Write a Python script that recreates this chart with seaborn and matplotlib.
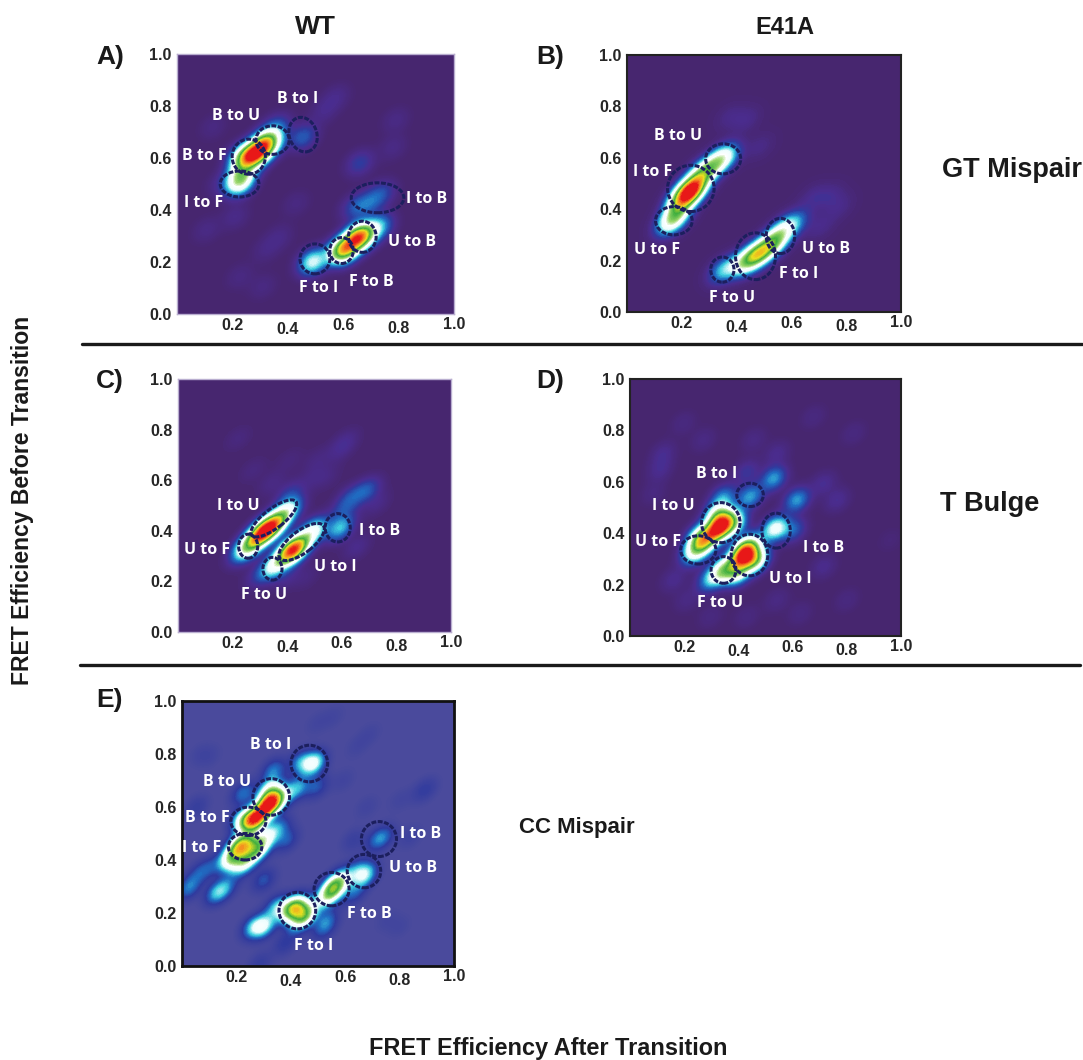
import numpy as np
import matplotlib
matplotlib.use('Agg')
import matplotlib.pyplot as plt
from matplotlib.colors import LinearSegmentedColormap
from matplotlib.lines import Line2D
from matplotlib.patches import Ellipse
import seaborn as sns

W, H = 1083, 1060

# transition peaks: after, before, relative height
a_x = [0.323, 0.281, 0.24, 0.23, 0.226, 0.455, 0.36, 0.66, 0.60, 0.49, 0.66, 0.74, 0.69, 0.73, 0.64,
       0.53, 0.576, 0.79, 0.78, 0.154, 0.21, 0.106, 0.226, 0.31, 0.37, 0.32, 0.13, 0.43]
a_y = [0.656, 0.612, 0.60, 0.53, 0.50, 0.68, 0.72, 0.297, 0.246, 0.20, 0.58, 0.464, 0.425, 0.336, 0.41,
       0.78, 0.836, 0.746, 0.64, 0.50, 0.374, 0.323, 0.144, 0.105, 0.297, 0.246, 0.72, 0.425]
a_w = [13, 13, 8, 6, 5, 2.8, 2.5, 16, 14, 6, 2, 2.2, 2.2, 4, 2,
       0.9, 0.9, 0.8, 0.8, 0.8, 0.9, 0.8, 0.7, 0.7, 0.8, 0.7, 0.7, 0.7]

b_x = [0.235, 0.278, 0.199, 0.333, 0.363, 0.18, 0.156, 0.473, 0.424, 0.52, 0.546, 0.582, 0.619, 0.351,
       0.436, 0.375, 0.485, 0.74, 0.68, 0.777, 0.704]
b_y = [0.475, 0.54, 0.436, 0.585, 0.611, 0.377, 0.345, 0.221, 0.189, 0.254, 0.286, 0.332, 0.351, 0.163,
       0.748, 0.76, 0.644, 0.449, 0.449, 0.41, 0.332]
b_w = [11, 6, 6, 4, 2.5, 4, 3.5, 7, 4, 4, 4, 2.5, 1.5, 3,
       0.7, 0.6, 0.6, 0.7, 0.7, 0.6, 0.7]

c_x = [0.33, 0.30, 0.361, 0.404, 0.257, 0.346, 0.435, 0.404, 0.496, 0.594, 0.692, 0.63, 0.606, 0.41, 0.226,
       0.288, 0.398, 0.655, 0.728, 0.22, 0.275, 0.343, 0.496, 0.508, 0.594, 0.618, 0.41, 0.545, 0.471]
c_y = [0.409, 0.383, 0.435, 0.482, 0.336, 0.255, 0.336, 0.31, 0.402, 0.409, 0.561, 0.534, 0.482, 0.547, 0.303,
       0.218, 0.218, 0.336, 0.508, 0.765, 0.64, 0.587, 0.613, 0.68, 0.719, 0.759, 0.68, 0.613, 0.218]
c_w = [12, 11, 8, 6, 9, 6, 13, 11, 7, 5, 3, 2, 2, 2, 1.2,
       1.2, 1.2, 1.2, 1, 0.7, 0.7, 0.9, 0.7, 0.7, 0.9, 0.9, 0.6, 0.7, 0.7]

d_x = [0.323, 0.345, 0.32, 0.382, 0.271, 0.234, 0.259, 0.443, 0.345, 0.53, 0.616, 0.536, 0.413, 0.437, 0.462,
       0.345, 0.296, 0.394, 0.603, 0.431, 0.123, 0.197, 0.271, 0.456, 0.542, 0.677, 0.714, 0.764, 0.825, 0.16,
       0.209, 0.296, 0.431, 0.542, 0.628, 0.80, 0.714, 0.086, 0.96, 0.11]
d_y = [0.412, 0.451, 0.477, 0.438, 0.36, 0.322, 0.386, 0.542, 0.542, 0.613, 0.529, 0.419, 0.309, 0.348, 0.296,
       0.257, 0.218, 0.244, 0.412, 0.639, 0.711, 0.828, 0.763, 0.763, 0.711, 0.853, 0.594, 0.529, 0.789, 0.218,
       0.14, 0.075, 0.075, 0.14, 0.088, 0.14, 0.27, 0.555, 0.374, 0.646]
d_w = [10, 6, 4, 5, 6, 4, 5, 3, 2.5, 3, 3, 5, 10, 7, 7,
       6, 3, 5, 2, 1.2, 0.8, 0.5, 0.6, 0.6, 0.8, 0.5, 0.9, 0.9, 0.5, 0.8,
       0.6, 0.5, 0.5, 0.6, 0.5, 0.5, 0.8, 0.5, 0.3, 0.8]

e_x = [0.317, 0.268, 0.324, 0.354, 0.225, 0.207, 0.275, 0.238, 0.176, 0.225, 0.311, 0.483, 0.434, 0.422, 0.495,
       0.336, 0.225, 0.023, 0.127, 0.06, 0.054, 0.164, 0.36, 0.385, 0.30, 0.103,
       0.422, 0.397, 0.458, 0.434, 0.30, 0.262, 0.348, 0.556, 0.532, 0.581, 0.673, 0.642, 0.63, 0.532, 0.52,
       0.379, 0.287, 0.74, 0.716, 0.838, 0.63, 0.90, 0.495, 0.556, 0.642, 0.066, 0.103, 0.691, 0.80, 0.875,
       0.679, 0.752, 0.80, 0.593]
e_y = [0.607, 0.553, 0.663, 0.632, 0.55, 0.45, 0.437, 0.462, 0.40, 0.387, 0.487, 0.764, 0.77, 0.67, 0.676,
       0.739, 0.651, 0.293, 0.274, 0.349, 0.60, 0.30, 0.525, 0.475, 0.324, 0.374,
       0.224, 0.211, 0.198, 0.173, 0.148, 0.148, 0.224, 0.293, 0.261, 0.324, 0.343, 0.362, 0.274, 0.173, 0.136,
       0.085, 0.01, 0.487, 0.475, 0.487, 0.475, 0.67, 0.915, 0.94, 0.827, 0.80, 0.789, 0.877, 0.626, 0.651,
       0.60, 0.173, 0.148, 0.70]
e_w = [12, 12, 5, 5, 5, 7, 6, 5, 5, 5, 4, 5, 2.5, 3, 2,
       2.5, 2.5, 2.5, 3, 1.5, 1.2, 2, 2, 2, 2, 1.5,
       6, 5, 5, 4, 4, 3, 3, 6, 4, 4, 4, 2, 2, 2, 1.5,
       1.5, 1.2, 1.8, 1.5, 0.8, 1, 1, 0.5, 0.5, 0.5, 0.5, 0.5, 0.5, 0.5, 0.5,
       0.6, 0.5, 0.5, 0.6]

# far off-plot points, they only set the kernel shape so it tilts like the ridges
tilt_x = [-0.6, 1.6, -0.6, 1.6]
tilt_y = [-0.6, 1.6, 1.6, -0.6]
a_tilt = [0.030, 0.030, 0.008, 0.008]
b_tilt = [0.032, 0.032, 0.008, 0.008]
c_tilt = [0.030, 0.030, 0.011, 0.011]
d_tilt = [0.026, 0.026, 0.014, 0.014]
e_tilt = [0.030, 0.030, 0.010, 0.010]

tick_labels = ['0.2', '0.4', '0.6', '0.8', '1.0']
y_tick_labels = ['0.0', '0.2', '0.4', '0.6', '0.8', '1.0']
x_tick_pads = [3, 6, 3, 5, 2]

# rings: x, y, width, height, angle
a_rings = [(.455, .69, .10, .135, 15), (.345, .669, .12, .11, 0), (.259, .605, .12, .135, 0), (.226, .50, .14, .10, 0),
           (.724, .447, .19, .115, 0), (.669, .297, .10, .12, 0), (.594, .244, .085, .10, 0), (.498, .212, .108, .115, 0)]
b_rings = [(.351, .596, .128, .117, 0), (.233, .481, .17, .18, 0), (.171, .355, .134, .11, 0),
           (.56, .296, .104, .137, 0), (.469, .217, .146, .182, 0), (.348, .165, .085, .098, 0)]
c_rings = [(.351, .449, .21, .075, 40), (.453, .356, .205, .085, 40), (.257, .339, .07, .095, 0),
           (.346, .25, .07, .09, 0), (.585, .412, .092, .112, 0)]
d_rings = [(.443, .549, .098, .091, 0), (.335, .441, .142, .156, 0), (.252, .335, .13, .11, 0),
           (.441, .315, .135, .162, 0), (.345, .257, .092, .104, 0), (.539, .41, .105, .136, 0)]
e_rings = [(.468, .764, .135, .138, 0), (.328, .638, .135, .138, 0), (.244, .546, .129, .107, 0), (.232, .45, .123, .10, 0),
           (.724, .479, .129, .132, 0), (.669, .358, .123, .126, 0), (.55, .29, .129, .126, 0), (.424, .209, .135, .138, 0)]

a_labels = [('B to I', .437, .826), ('B to U', .212, .762), ('B to F', .10, .608), ('I to F', .096, .428),
            ('I to B', .90, .442), ('U to B', .847, .278), ('F to B', .70, .124), ('F to I', .51, .099)]
b_labels = [('B to U', .188, .683), ('I to F', .095, .546), ('U to F', .11, .24),
            ('U to B', .728, .244), ('F to I', .625, .147), ('F to U', .384, .056)]
c_labels = [('I to U', .22, .499), ('U to F', .106, .326), ('F to U', .316, .145), ('U to I', .575, .255), ('I to B', .738, .40)]
d_labels = [('B to I', .318, .629), ('I to U', .16, .507), ('U to F', .105, .367), ('I to B', .714, .341),
            ('U to I', .591, .22), ('F to U', .333, .127)]
e_labels = [('B to I', .326, .833), ('B to U', .164, .695), ('B to F', .093, .56), ('I to F', .072, .446),
            ('I to B', .879, .50), ('U to B', .85, .368), ('F to B', .689, .195), ('F to I', .483, .077)]

stops = [(0.09, '#2f3a9e'), (0.15, '#1f6fc4'), (0.21, '#3fd0e0'), (0.28, '#ecfdfd'), (0.38, '#ffffff'),
         (0.46, '#9bd66a'), (0.56, '#3fae3f'), (0.66, '#e8e020'), (0.76, '#f58a20'), (0.86, '#e81818'), (1.0, '#e81818')]
purple_cmap = LinearSegmentedColormap.from_list('fret', [(0, '#47266f'), (0.05, '#4a2c8f')] + stops)
blue_cmap = LinearSegmentedColormap.from_list('fret_e', [(0, '#4a4a9c')] + stops)

sns.set_style('white')
plt.rcParams['font.family'] = ['Liberation Sans', 'DejaVu Sans']


def px_axes(x0, y0, x1, y1):
    return fig.add_axes([x0 / W, 1 - y1 / H, (x1 - x0) / W, (y1 - y0) / H])


def draw_panel(box, xs, ys, ws, tilt, rings, labels, cmap, bg, edge, lw, bw=0.11):
    ax = px_axes(*box)
    ax.set_facecolor(bg)
    total = sum(ws)
    px = list(xs) + tilt_x
    py = list(ys) + tilt_y
    pw = list(ws) + [t * total for t in tilt]
    sns.kdeplot(x=px, y=py, weights=pw, fill=True, levels=np.linspace(0.004, 1, 90), cmap=cmap, bw_method=bw,
                gridsize=220, cut=10, clip=((0, 1), (0, 1)), ax=ax)
    for cx, cy, w, h, ang in rings:
        ax.add_patch(Ellipse((cx, cy), w, h, angle=ang, fill=False, ec='#1c1f5e', lw=2.2, ls=(0, (1.6, 0.5)), zorder=4))
    for txt, tx, ty in labels:
        ax.text(tx, ty, txt, color='white', fontsize=11.5, fontweight='bold', family=['Open Sans', 'DejaVu Sans'],
                ha='center', va='center', zorder=5)
    ax.set_xlim(0, 1)
    ax.set_ylim(0, 1)
    ax.set_xlabel('')
    ax.set_ylabel('')
    ax.set_xticks([0.2, 0.4, 0.6, 0.8, 1.0], tick_labels)
    ax.set_yticks([0.0, 0.2, 0.4, 0.6, 0.8, 1.0], y_tick_labels)
    ax.tick_params(length=0, pad=4)
    for tick, pad in zip(ax.xaxis.get_major_ticks(), x_tick_pads):
        tick.set_pad(pad)
    for lab in ax.get_xticklabels() + ax.get_yticklabels():
        lab.set_fontweight('bold')
        lab.set_fontsize(11.5)
    for s in ax.spines.values():
        s.set_color(edge)
        s.set_linewidth(lw)
    return ax


def fig_text(x, y, s, size, **kw):
    fig.text(x / W, 1 - y / H, s, fontsize=size, fontweight='bold', color='#1a1a1a', ha='center', va='center', **kw)


fig = plt.figure(figsize=(W / 100, H / 100), dpi=100)

draw_panel((177, 54, 454, 314), a_x, a_y, a_w, a_tilt, a_rings, a_labels, purple_cmap, '#47266f', '#b9aed0', 1, bw=0.1)
draw_panel((627, 55, 901, 312), b_x, b_y, b_w, b_tilt, b_rings, b_labels, purple_cmap, '#47266f', '#222222', 1.5)
draw_panel((178, 379, 451, 632), c_x, c_y, c_w, c_tilt, c_rings, c_labels, purple_cmap, '#47266f', '#b9aed0', 1)
draw_panel((630, 379, 901, 636), d_x, d_y, d_w, d_tilt, d_rings, d_labels, purple_cmap, '#47266f', '#222222', 1.5, bw=0.1)
draw_panel((182, 701, 454, 966), e_x, e_y, e_w, e_tilt, e_rings, e_labels, blue_cmap, '#4a4a9c', '#111111', 2, bw=0.09)

fig_text(315, 27, 'WT', 19)
fig_text(785, 27, 'E41A', 17)
for txt, px_x, px_y in [('A)', 110, 57), ('B)', 550, 57), ('C)', 110, 381), ('D)', 550, 381), ('E)', 110, 700)]:
    fig_text(px_x, px_y, txt, 19)
fig_text(1012, 170, 'GT Mispair', 19.5)
fig_text(990, 504, 'T Bulge', 19.5)
fig_text(577, 827, 'CC Mispair', 16)
fig_text(23, 500, 'FRET Efficiency Before Transition', 16.6, rotation=90)
fig_text(548, 1048, 'FRET Efficiency After Transition', 16.9)

fig.add_artist(Line2D([82 / W, 1082 / W], [1 - 344 / H] * 2, color='#1a1a1a', lw=2.4))
fig.add_artist(Line2D([80 / W, 1080 / W], [1 - 665 / H] * 2, color='#1a1a1a', lw=2.4))

fig.savefig('out.png', dpi=100)
